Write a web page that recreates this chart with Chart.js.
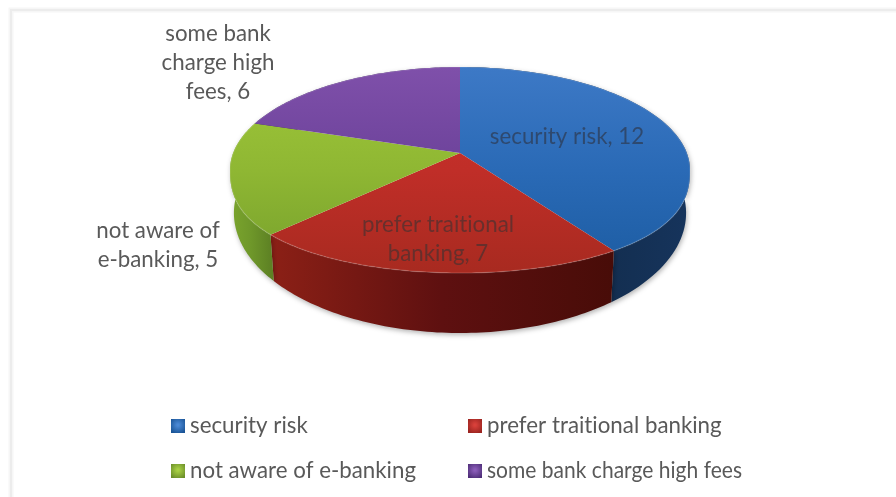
<!DOCTYPE html>
<html>
<head>
<meta charset="utf-8">
<style>html,body{margin:0;padding:0;background:#fff}canvas{display:block}</style>
<script src="https://cdn.jsdelivr.net/npm/chart.js@4/dist/chart.umd.js"></script>
</head>
<body>
<canvas id="c" width="896" height="497"></canvas>
<script>
const categories = ['security risk', 'prefer traitional banking', 'not aware of e-banking', 'some bank charge high fees'];
const values = [12, 7, 5, 6];
const topColors = [['#3d79c6', '#2a6ab6', '#1c5ca2'], ['#cb322c', '#c02e28', '#a82a20'], ['#a0c83a', '#8fb733', '#76a02c'], ['#7f50aa', '#6c429a', '#5a3586']];
const wallColors = [['#0f2742', '#122c4c', '#16345c'], ['#8c2016', '#5e1010', '#480c08'], ['#7ba52d', '#6f982a', '#5e8224'], ['#3f2a5e', '#3f2a5e', '#3f2a5e']];
const swatchEdges = ['#1a5496', '#9a2420', '#6c8f2a', '#4e2e78'];
const swatchCores = ['#4a88d4', '#d8403a', '#a8d044', '#8a5cb8'];
const sliceLabels = [
  { lines: ['security risk, 12'], x: 567, y: 137, color: 'rgba(45,50,65,0.62)' },
  { lines: ['prefer traitional', 'banking, 7'], x: 438, y: 225, color: 'rgba(60,50,50,0.62)' },
  { lines: ['not aware of', 'e-banking, 5'], x: 158, y: 231, color: '#595959' },
  { lines: ['some bank', 'charge high', 'fees, 6'], x: 218, y: 34, color: '#595959' }
];
const legendSpots = [[171, 426], [468, 426], [171, 471], [468, 471]];
const legendWidths = [118, 236, 226, 255];
const FONT = '22.3px Lato, Carlito, sans-serif';

// Perspective view of the disc: the two rims are near-ellipses, and the hub is pulled toward the far side.
const TOP_RIM = { cy: 170, ry: 103, scale: 1, frontBulge: 0.82 };
const BOTTOM_RIM = { cy: 213, ry: 120, scale: 0.983, frontBulge: 1 };
const HUB_SHIFT = -0.165;

function rimPoint(el, angle, rim) {
  const ux = Math.cos(angle), uy = Math.sin(angle);
  const d = 1 + HUB_SHIFT * uy;
  const px = ux * Math.sqrt(1 - HUB_SHIFT * HUB_SHIFT) / d;
  let py = (uy + HUB_SHIFT) / d;
  if (py > 0) py = Math.pow(py, rim.frontBulge);
  return [el.x + px * el.outerRadius * rim.scale, rim.cy + py * rim.ry];
}

function traceRim(ctx, el, from, to, rim, first) {
  const steps = 80;
  for (let i = 0; i <= steps; i++) {
    const p = rimPoint(el, from + (to - from) * i / steps, rim);
    if (i === 0 && first) ctx.moveTo(p[0], p[1]); else ctx.lineTo(p[0], p[1]);
  }
}

function stops(grad, colors) {
  colors.forEach((c, i) => grad.addColorStop(i / (colors.length - 1), c));
  return grad;
}

class Arc3D extends Chart.ArcElement {
  static id = 'arc3d';
  drawWall(ctx, colors) {
    const xs = [];
    for (let i = 0; i <= 40; i++) xs.push(rimPoint(this, this.startAngle + (this.endAngle - this.startAngle) * i / 40, TOP_RIM)[0]);
    ctx.save();
    ctx.shadowColor = 'rgba(0,0,0,0.3)';
    ctx.shadowBlur = 5;
    ctx.shadowOffsetX = 1;
    ctx.shadowOffsetY = 2;
    ctx.beginPath();
    traceRim(ctx, this, this.startAngle, this.endAngle, TOP_RIM, true);
    traceRim(ctx, this, this.endAngle, this.startAngle, BOTTOM_RIM, false);
    ctx.closePath();
    const g = ctx.createLinearGradient(Math.min(...xs), 0, Math.max(...xs), 0);
    ctx.fillStyle = stops(g, colors);
    ctx.fill();
    ctx.restore();
  }
  draw(ctx) {
    const hub = [this.x, TOP_RIM.cy + HUB_SHIFT * TOP_RIM.ry];
    const index = this.$context ? this.$context.dataIndex : 0;
    ctx.save();
    ctx.beginPath();
    ctx.moveTo(hub[0], hub[1]);
    traceRim(ctx, this, this.startAngle, this.endAngle, TOP_RIM, false);
    ctx.closePath();
    const g = ctx.createLinearGradient(0, TOP_RIM.cy - TOP_RIM.ry, 0, TOP_RIM.cy + TOP_RIM.ry);
    ctx.fillStyle = stops(g, topColors[index]);
    ctx.fill();
    // thin bevel along the outer edge
    ctx.beginPath();
    traceRim(ctx, this, this.startAngle, this.endAngle, TOP_RIM, true);
    ctx.strokeStyle = 'rgba(255,255,255,0.13)';
    ctx.lineWidth = 1.5;
    ctx.stroke();
    ctx.restore();
  }
}

class Pie3D extends Chart.PieController {
  static id = 'pie3d';
  static defaults = { dataElementType: 'arc3d' };
  static overrides = Chart.PieController.overrides;
  draw() {
    const ctx = this.chart.ctx;
    const arcs = this.getMeta().data;
    arcs.forEach((arc, i) => arc.drawWall(ctx, wallColors[i]));
    arcs.forEach((arc) => arc.draw(ctx));
  }
}
Chart.register(Arc3D, Pie3D);

const frame = {
  id: 'frame',
  beforeDraw(chart) {
    const ctx = chart.ctx;
    ctx.save();
    ctx.fillStyle = '#fff';
    ctx.fillRect(0, 0, 896, 497);
    [['#f6f6f6', 5], ['#ececec', 2]].forEach(([c, w]) => {
      ctx.strokeStyle = c;
      ctx.lineWidth = w;
      ctx.beginPath();
      ctx.moveTo(11, 497);
      ctx.lineTo(11, 10);
      ctx.lineTo(896, 10);
      ctx.stroke();
    });
    ctx.restore();
  }
};

const texts = {
  id: 'texts',
  afterDatasetsDraw(chart) {
    const ctx = chart.ctx;
    ctx.save();
    ctx.font = FONT;
    ctx.letterSpacing = '0.01px'; // keeps "ti" as two separate letters
    ctx.textAlign = 'center';
    ctx.textBaseline = 'middle';
    sliceLabels.forEach((l) => {
      ctx.fillStyle = l.color;
      l.lines.forEach((t, i) => ctx.fillText(t, l.x, l.y + i * 28.8));
    });
    // Two-column legend with a small bevelled swatch per category
    ctx.textAlign = 'left';
    categories.forEach((name, i) => {
      const [x, y] = legendSpots[i];
      const g = ctx.createRadialGradient(x + 7, y - 1, 1, x + 7, y - 1, 9);
      g.addColorStop(0, swatchCores[i]);
      g.addColorStop(1, swatchEdges[i]);
      ctx.fillStyle = g;
      ctx.fillRect(x, y - 7, 14, 14);
      ctx.fillStyle = '#595959';
      ctx.fillText(name, x + 19, y, legendWidths[i]);
    });
    ctx.restore();
  }
};

new Chart(document.getElementById('c'), {
  type: 'pie3d',
  data: { labels: categories, datasets: [{ data: values, borderWidth: 0 }] },
  plugins: [frame, texts],
  options: {
    responsive: false,
    animation: false,
    layout: { padding: { left: 230, right: 206 } },
    plugins: { legend: { display: false }, tooltip: { enabled: false } }
  }
});
</script>
</body>
</html>
